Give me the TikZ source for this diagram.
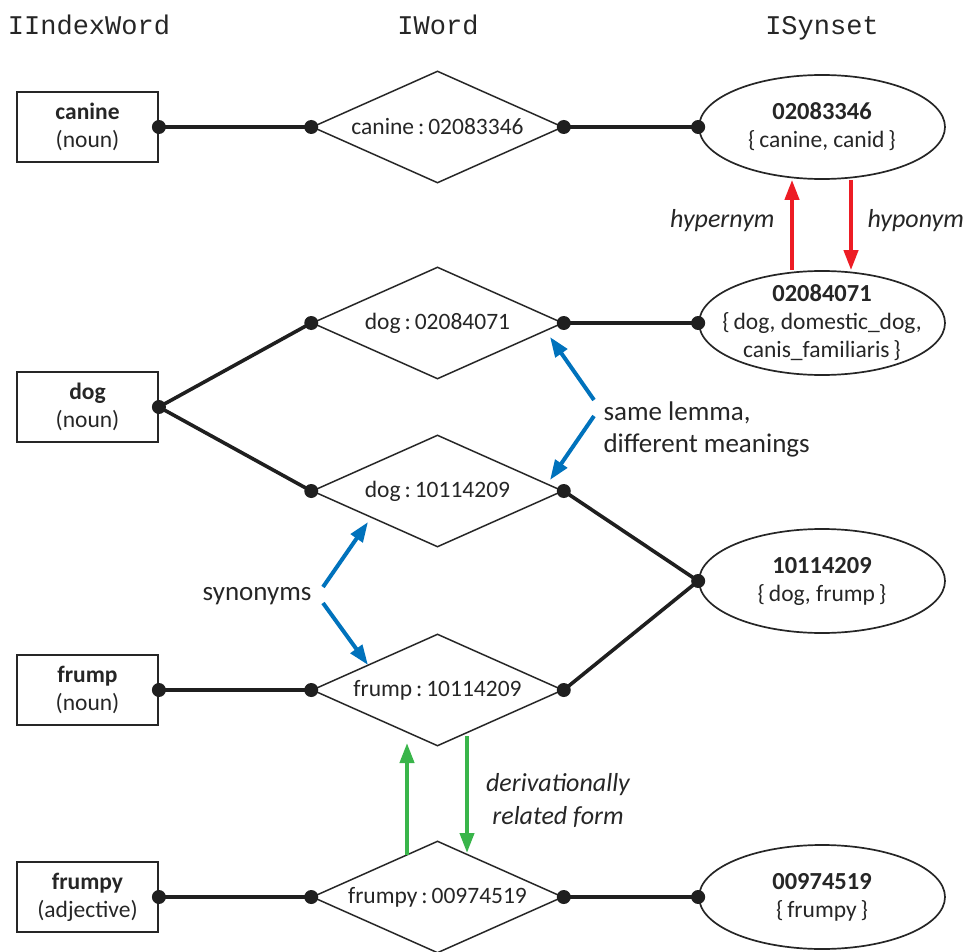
\documentclass[tikz,border=0pt]{standalone}
\usepackage{fontspec}
\setmainfont{Carlito}
\newfontfamily\monof{Liberation Mono}
\usetikzlibrary{shapes.geometric,arrows.meta}
\definecolor{rred}{HTML}{ED1C24}
\definecolor{bblue}{HTML}{0072BC}
\definecolor{ggreen}{HTML}{39B54A}
\begin{document}
\begin{tikzpicture}[x=1pt,y=-1pt,
  every node/.style={font=\fontsize{23.5}{28}\selectfont, text=black!85},
  wordbox/.style={draw=black!85, line width=1.8pt, minimum width=141pt, minimum height=70pt, inner sep=0pt, align=center},
  wordiamond/.style={draw=black!85, diamond, aspect=2.24, line width=1.5pt, minimum width=251pt, minimum height=112pt, inner sep=0pt},
  synell/.style={draw=black!85, ellipse, line width=1.7pt, minimum width=246pt, minimum height=104pt, inner sep=0pt, align=center},
  conn/.style={line width=3.6pt, draw=black!88},
  head/.style={font=\monof\fontsize{27}{30}\selectfont, anchor=base},
  rel/.style={line width=4pt, -{Triangle[length=20pt,width=14pt]}},
  lab/.style={font=\fontsize{27}{32}\selectfont},
  ilab/.style={font=\itshape\fontsize{26}{33}\selectfont}
]
\useasboundingbox (0,0) rectangle (969,952);

% headers
\node[head] (hIW) at (89,35) {IIndexWord};
\node[head] (hW) at (438,35) {IWord};
\node[head] (hS) at (822,35) {ISynset};

% index words
\node[wordbox] (b1) at (87.5,127) {\textbf{canine}\\(noun)};
\node[wordbox] (b2) at (87.5,407) {\textbf{dog}\\(noun)};
\node[wordbox] (b3) at (87.5,690) {\textbf{frump}\\(noun)};
\node[wordbox] (b4) at (87.5,897) {\textbf{frumpy}\\(adjective)};

% words
\node[wordiamond] (d1) at (437.5,127) {canine\,:\,02083346};
\node[wordiamond] (d2) at (437.5,323) {dog\,:\,02084071};
\node[wordiamond] (d3) at (437.5,491) {dog\,:\,10114209};
\node[wordiamond] (d4) at (437.5,690) {frump\,:\,10114209};
\node[wordiamond] (d5) at (437.5,897) {frumpy\,:\,00974519};

% synsets
\node[synell] (e1) at (822,127) {\textbf{\fontsize{24.5}{28}\selectfont 02083346}\\\{\,canine, canid\,\}};
\node[synell, inner xsep=-26pt, inner ysep=-8pt] (e2) at (822,323) {\textbf{\fontsize{24.5}{27}\selectfont 02084071}\\\{\,dog, domestic\_dog,\\canis\_familiaris\,\}};
\node[synell] (e3) at (822,581) {\textbf{\fontsize{24.5}{28}\selectfont 10114209}\\\{\,dog, frump\,\}};
\node[synell] (e5) at (822,897) {\textbf{\fontsize{24.5}{28}\selectfont 00974519}\\\{\,frumpy\,\}};

% connectors
\draw[conn] (b1.east) -- (d1.west);
\draw[conn] (d1.east) -- (e1.west);
\draw[conn] (b2.east) -- (d2.west);
\draw[conn] (b2.east) -- (d3.west);
\draw[conn] (d2.east) -- (e2.west);
\draw[conn] (d3.east) -- (e3.west);
\draw[conn] (b3.east) -- (d4.west);
\draw[conn] (d4.east) -- (e3.west);
\draw[conn] (b4.east) -- (d5.west);
\draw[conn] (d5.east) -- (e5.west);
\foreach \a in {b1.east,d1.west,d1.east,e1.west,b2.east,d2.west,d2.east,e2.west,d3.west,d3.east,e3.west,b3.east,d4.west,d4.east,b4.east,d5.west,d5.east,e5.west}
  \fill[black!88] (\a) circle (7pt);

% labels
\node[ilab, anchor=base east] (lhyper) at (778,228) {hypernym};
\node[ilab, anchor=base west] (lhypo) at (864,228) {hyponym};
\node[lab, anchor=west, align=left] (lsame) at (600,429) {same lemma,\\different meanings};
\node[lab, anchor=base east] (lsyn) at (315,600) {synonyms};
\node[ilab, align=center] (lderiv) at (558,800) {derivationally\\related form};

% relation arrows
\draw[rel, rred] ([xshift=-30pt]e2.north) -- ([xshift=-30pt]e1.south);
\draw[rel, rred] ([xshift=29pt]e1.south) -- ([xshift=29pt]e2.north);

\coordinate (sl1) at (594,400); \coordinate (sl1t) at (550,337);
\coordinate (sl2) at (594,416); \coordinate (sl2t) at (550,480);
\draw[rel, bblue] (sl1) -- (sl1t);
\draw[rel, bblue] (sl2) -- (sl2t);
\coordinate (sy1) at (323,587); \coordinate (sy1t) at (368,522);
\coordinate (sy2) at (323,603); \coordinate (sy2t) at (368,665);
\draw[rel, bblue] (sy1) -- (sy1t);
\draw[rel, bblue] (sy2) -- (sy2t);

\coordinate (g1s) at (407,855); \coordinate (g1t) at (407,743);
\coordinate (g2s) at (467,736); \coordinate (g2t) at (467,853);
\draw[rel, ggreen] (g1s) -- (g1t);
\draw[rel, ggreen] (g2s) -- (g2t);
\end{tikzpicture}
\end{document}
